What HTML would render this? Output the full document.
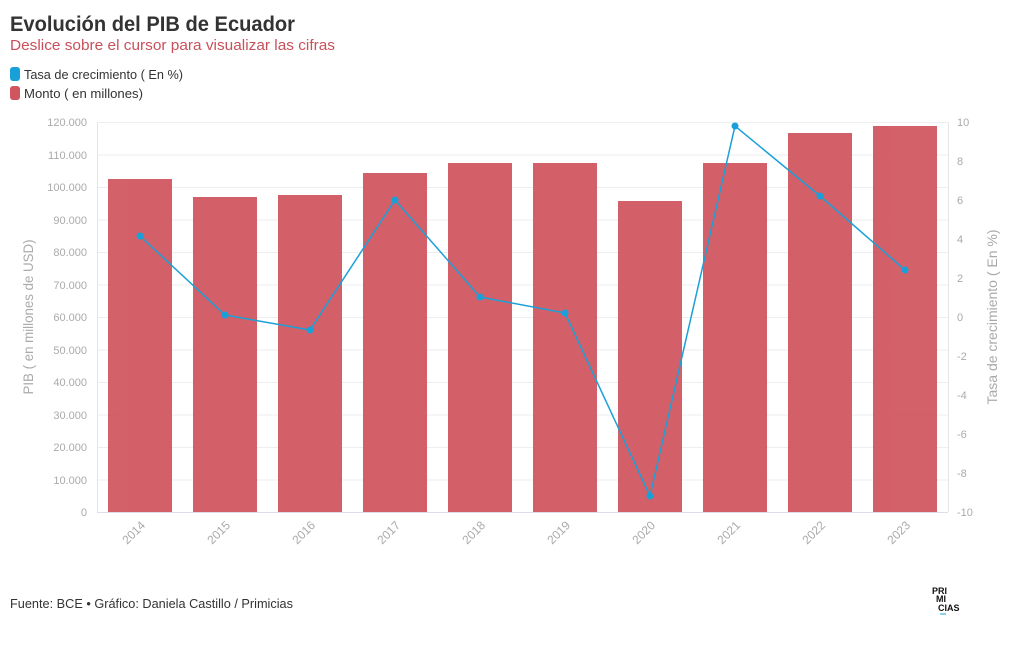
<!DOCTYPE html><html><head><meta charset="utf-8"><style>body{margin:0;background:#fff;font-family:"Liberation Sans",sans-serif}</style></head><body>
<svg width="1020" height="650" xmlns="http://www.w3.org/2000/svg" font-family="Liberation Sans, sans-serif">
<text x="10" y="31" font-size="21" font-weight="bold" fill="#333" textLength="285" lengthAdjust="spacingAndGlyphs">Evolución del PIB de Ecuador</text>
<text x="10" y="50" font-size="15" fill="#c8505a" textLength="325" lengthAdjust="spacingAndGlyphs">Deslice sobre el cursor para visualizar las cifras</text>
<rect x="10" y="67" width="10" height="14" rx="3" fill="#1aa0d8"/><text x="24" y="79" font-size="13" fill="#333" textLength="159" lengthAdjust="spacingAndGlyphs">Tasa de crecimiento ( En %)</text>
<rect x="10" y="86" width="10" height="14" rx="3" fill="#d0555e"/><text x="24" y="98" font-size="13" fill="#333" textLength="119" lengthAdjust="spacingAndGlyphs">Monto ( en millones)</text>
<g stroke="#eee" stroke-width="1">
<line x1="97" x2="948" y1="122.5" y2="122.5"/><line x1="97" x2="948" y1="155" y2="155"/><line x1="97" x2="948" y1="187.5" y2="187.5"/><line x1="97" x2="948" y1="220" y2="220"/><line x1="97" x2="948" y1="252.5" y2="252.5"/><line x1="97" x2="948" y1="285" y2="285"/><line x1="97" x2="948" y1="317.5" y2="317.5"/><line x1="97" x2="948" y1="350" y2="350"/><line x1="97" x2="948" y1="382.5" y2="382.5"/><line x1="97" x2="948" y1="415" y2="415"/><line x1="97" x2="948" y1="447.5" y2="447.5"/><line x1="97" x2="948" y1="480" y2="480"/>
</g>
<line x1="97.5" x2="97.5" y1="122" y2="512" stroke="#e6e6e6"/><line x1="948.5" x2="948.5" y1="122" y2="512" stroke="#e6e6e6"/>
<g font-size="11" fill="#aaa" text-anchor="end">
<text x="87" y="126">120.000</text><text x="87" y="159">110.000</text><text x="87" y="191">100.000</text><text x="87" y="224">90.000</text><text x="87" y="256">80.000</text><text x="87" y="289">70.000</text><text x="87" y="321">60.000</text><text x="87" y="354">50.000</text><text x="87" y="386">40.000</text><text x="87" y="419">30.000</text><text x="87" y="451">20.000</text><text x="87" y="484">10.000</text><text x="87" y="516">0</text>
</g>
<g font-size="11" fill="#aaa">
<text x="957" y="126">10</text><text x="957" y="165">8</text><text x="957" y="204">6</text><text x="957" y="243">4</text><text x="957" y="282">2</text><text x="957" y="321">0</text><text x="957" y="360">-2</text><text x="957" y="399">-4</text><text x="957" y="438">-6</text><text x="957" y="477">-8</text><text x="957" y="516">-10</text>
</g>
<text transform="translate(33,317) rotate(-90)" font-size="14" fill="#aaa" text-anchor="middle" textLength="155" lengthAdjust="spacingAndGlyphs">PIB ( en millones de USD)</text>
<text transform="translate(997,317) rotate(-90)" font-size="14" fill="#aaa" text-anchor="middle" textLength="175" lengthAdjust="spacingAndGlyphs">Tasa de crecimiento ( En %)</text>
<g fill="#d0555e" opacity="0.93">
<rect x="108" y="179" width="64" height="333"/><rect x="193" y="197" width="64" height="315"/><rect x="278" y="195" width="64" height="317"/><rect x="363" y="173" width="64" height="339"/><rect x="448" y="163" width="64" height="349"/><rect x="533" y="163" width="64" height="349"/><rect x="618" y="201" width="64" height="311"/><rect x="703" y="163" width="64" height="349"/><rect x="788" y="133" width="64" height="379"/><rect x="873" y="126" width="64" height="386"/>
</g>
<line x1="97" x2="948" y1="512.5" y2="512.5" stroke="#dde"/>
<g font-size="12" fill="#aaa" text-anchor="end">
<text transform="translate(146,526) rotate(-45)">2014</text><text transform="translate(231,526) rotate(-45)">2015</text><text transform="translate(316,526) rotate(-45)">2016</text><text transform="translate(401,526) rotate(-45)">2017</text><text transform="translate(486,526) rotate(-45)">2018</text><text transform="translate(571,526) rotate(-45)">2019</text><text transform="translate(656,526) rotate(-45)">2020</text><text transform="translate(741,526) rotate(-45)">2021</text><text transform="translate(826,526) rotate(-45)">2022</text><text transform="translate(911,526) rotate(-45)">2023</text>
</g>
<polyline fill="none" stroke="#1aa0d8" stroke-width="1.5" points="140,236 225,315 310,330 395,200 480,297 565,313 650,496 735,126 820,196 905,270"/>
<g fill="#1aa0d8"><circle cx="140" cy="236" r="3.5"/><circle cx="225" cy="315" r="3.5"/><circle cx="310" cy="330" r="3.5"/><circle cx="395" cy="200" r="3.5"/><circle cx="480" cy="297" r="3.5"/><circle cx="565" cy="313" r="3.5"/><circle cx="650" cy="496" r="3.5"/><circle cx="735" cy="126" r="3.5"/><circle cx="820" cy="196" r="3.5"/><circle cx="905" cy="270" r="3.5"/></g>
<text x="10" y="608" font-size="13" fill="#333" textLength="283" lengthAdjust="spacingAndGlyphs">Fuente: BCE • Gráfico: Daniela Castillo / Primicias</text>
<g font-size="9" font-weight="bold" fill="#111"><text x="932" y="594">PRI</text><text x="936" y="602">MI</text><text x="938" y="611">CIAS</text></g>
<line x1="940" x2="946" y1="614" y2="614" stroke="#1aa0d8"/>
</svg></body></html>
